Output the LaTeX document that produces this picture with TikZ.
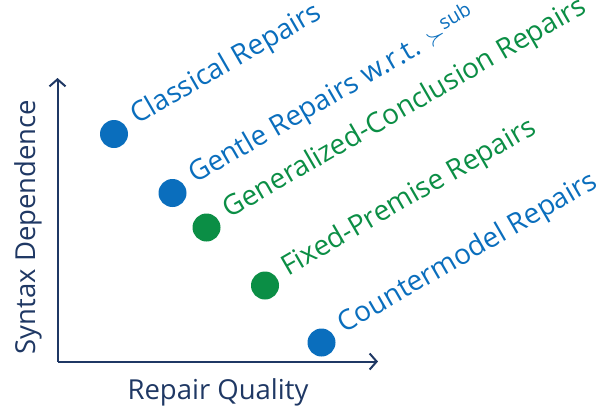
\documentclass[tikz,border=0pt]{standalone}
\usepackage{fontspec}
\setmainfont{Open Sans}
\usetikzlibrary{arrows.meta,calc}
\definecolor{navy}{HTML}{1F3864}
\definecolor{rblue}{HTML}{0A6EBD}
\definecolor{rgreen}{HTML}{0B8E45}
\begin{document}
\begin{tikzpicture}[x=1pt,y=-1pt,
  axis/.style={draw=navy,line width=2pt,-{Straight Barb[length=7pt,width=16pt,line width=2pt]}},
  axlabel/.style={text=navy,font=\fontsize{27.5}{30}\selectfont,inner sep=0pt},
  dotb/.style={circle,fill=rblue,minimum size=28pt,inner sep=0pt},
  dotg/.style={circle,fill=rgreen,minimum size=28pt,inner sep=0pt},
  lab/.style={anchor=base west,rotate=30,inner sep=0pt,font=\fontsize{28}{32}\selectfont}]
\useasboundingbox (0,0) rectangle (600,407);
\coordinate (o) at (57.5,361.5);
\coordinate (ytip) at (57.5,78);
\coordinate (xtip) at (378,361.5);
\draw[axis] (o) -- (ytip);
\draw[axis] (o) -- (xtip);
\node[axlabel,anchor=base,rotate=90] (yl) at (35,227) {Syntax Dependence};
\node[axlabel,anchor=base] (xl) at (218,399) {Repair Quality};
\node[dotb] (d1) at (114,134) {};
\node[dotb] (d2) at (172.5,193) {};
\node[dotg] (d3) at (206.5,227.5) {};
\node[dotg] (d4) at (265,285.5) {};
\node[dotb] (d5) at (321.5,342.5) {};
\node[lab,text=rblue] (l1) at ($(d1)+(23,-9)$) {Classical Repairs};
\node[lab,text=rblue] (l2) at ($(d2)+(23,-9)$) {Gentle Repairs w.r.t. \ensuremath{\succ}\textsuperscript{sub}};
\node[lab,text=rgreen] (l3) at ($(d3)+(23,-9)$) {Generalized-Conclusion Repairs};
\node[lab,text=rgreen] (l4) at ($(d4)+(23,-9)$) {Fixed-Premise Repairs};
\node[lab,text=rblue] (l5) at ($(d5)+(23,-9)$) {Countermodel Repairs};
\end{tikzpicture}
\end{document}
